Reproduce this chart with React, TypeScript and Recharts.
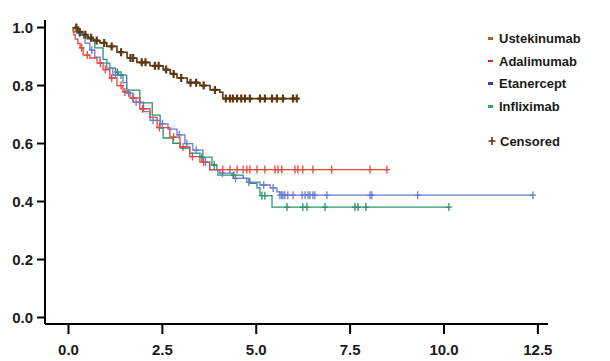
import React from "react";
import { LineChart, Line, XAxis, YAxis, Legend } from "recharts";

// Kaplan-Meier step data: time, survival, censored flag (1 = censored mark)
const ustTime = [0.18, 0.21, 0.25, 0.3, 0.39, 0.45, 0.52, 0.6, 0.65, 0.75, 0.84, 0.95, 1.02, 1.15, 1.29, 1.4, 1.56, 1.65, 1.72, 1.82, 1.95, 2.05, 2.17, 2.3, 2.4, 2.52, 2.6, 2.71, 2.8, 2.89, 3.0, 3.16, 3.25, 3.4, 3.5, 3.6, 3.77, 3.9, 4.03, 4.11, 4.19, 4.3, 4.38, 4.49, 4.6, 4.7, 4.83, 5.1, 5.23, 5.42, 5.55, 5.71, 5.98, 6.08];
const ustSurv = [1, 1, 0.985, 0.985, 0.975, 0.975, 0.965, 0.965, 0.955, 0.955, 0.947, 0.947, 0.935, 0.935, 0.915, 0.915, 0.895, 0.895, 0.895, 0.88, 0.88, 0.88, 0.868, 0.868, 0.868, 0.855, 0.855, 0.84, 0.84, 0.826, 0.826, 0.81, 0.81, 0.81, 0.8, 0.8, 0.785, 0.785, 0.777, 0.755, 0.755, 0.755, 0.755, 0.755, 0.755, 0.755, 0.755, 0.755, 0.755, 0.755, 0.755, 0.755, 0.755, 0.755];
const ustCens = [0, 1, 0, 1, 0, 1, 0, 1, 0, 1, 0, 1, 0, 1, 0, 1, 0, 1, 1, 0, 1, 1, 0, 1, 1, 0, 1, 0, 1, 0, 1, 0, 1, 1, 0, 1, 0, 1, 0, 0, 1, 1, 1, 1, 1, 1, 1, 1, 1, 1, 1, 1, 1, 1];

const adaTime = [0.11, 0.14, 0.18, 0.25, 0.31, 0.35, 0.39, 0.5, 0.57, 0.76, 0.85, 0.92, 0.98, 1.1, 1.15, 1.29, 1.4, 1.45, 1.5, 1.64, 1.72, 1.9, 1.97, 2.17, 2.36, 2.42, 2.7, 2.8, 2.97, 3.05, 3.23, 3.3, 3.5, 3.6, 3.76, 4.11, 4.3, 4.49, 4.65, 4.75, 4.83, 5.02, 5.23, 5.5, 5.58, 5.68, 6.03, 6.11, 6.24, 6.51, 7.01, 8.03, 8.48];
const adaSurv = [1, 0.975, 0.96, 0.945, 0.93, 0.93, 0.905, 0.905, 0.895, 0.877, 0.877, 0.855, 0.855, 0.826, 0.826, 0.8, 0.8, 0.778, 0.778, 0.757, 0.757, 0.72, 0.72, 0.69, 0.655, 0.655, 0.622, 0.622, 0.588, 0.588, 0.555, 0.555, 0.536, 0.536, 0.51, 0.51, 0.51, 0.51, 0.51, 0.51, 0.51, 0.51, 0.51, 0.51, 0.51, 0.51, 0.51, 0.51, 0.51, 0.51, 0.51, 0.51, 0.51];
const adaCens = [0, 0, 0, 0, 0, 1, 0, 1, 0, 0, 1, 0, 1, 0, 1, 0, 1, 0, 1, 0, 1, 0, 1, 0, 0, 1, 0, 1, 0, 1, 0, 1, 0, 1, 0, 1, 1, 1, 1, 1, 1, 1, 1, 1, 1, 1, 1, 1, 1, 1, 1, 1, 1];

const etaTime = [0.16, 0.22, 0.3, 0.44, 0.57, 0.62, 0.7, 0.84, 1.02, 1.18, 1.25, 1.45, 1.55, 1.6, 1.72, 1.8, 2.0, 2.17, 2.25, 2.44, 2.5, 2.65, 2.89, 2.95, 3.1, 3.15, 3.31, 3.4, 3.58, 3.65, 3.76, 4.03, 4.1, 4.38, 4.45, 4.75, 4.8, 5.1, 5.2, 5.37, 5.45, 5.55, 5.63, 5.68, 5.71, 5.76, 5.84, 5.98, 6.22, 6.3, 6.38, 6.43, 6.51, 6.56, 6.88, 8.03, 8.08, 9.3, 12.37];
const etaSurv = [1, 0.98, 0.98, 0.946, 0.922, 0.922, 0.898, 0.877, 0.86, 0.836, 0.836, 0.81, 0.774, 0.774, 0.743, 0.743, 0.71, 0.68, 0.68, 0.668, 0.668, 0.65, 0.63, 0.63, 0.6, 0.6, 0.577, 0.577, 0.536, 0.536, 0.509, 0.498, 0.498, 0.48, 0.48, 0.467, 0.467, 0.457, 0.457, 0.447, 0.447, 0.433, 0.422, 0.422, 0.422, 0.422, 0.422, 0.422, 0.422, 0.422, 0.422, 0.422, 0.422, 0.422, 0.422, 0.422, 0.422, 0.422, 0.422];
const etaCens = [0, 0, 1, 0, 0, 1, 0, 0, 0, 0, 1, 0, 0, 1, 0, 1, 0, 0, 1, 0, 1, 0, 0, 1, 0, 1, 0, 1, 0, 1, 0, 0, 1, 0, 1, 0, 1, 0, 1, 0, 1, 0, 1, 1, 1, 1, 1, 1, 1, 1, 1, 1, 1, 1, 1, 1, 1, 1, 1];

const infTime = [0.09, 0.12, 0.3, 0.4, 0.5, 0.7, 0.92, 1.02, 1.1, 1.25, 1.3, 1.33, 1.4, 1.55, 1.9, 2.23, 2.44, 2.52, 2.78, 2.97, 3.23, 3.5, 3.55, 3.82, 3.88, 3.95, 3.98, 4.4, 4.65, 4.83, 5.02, 5.1, 5.15, 5.23, 5.42, 5.82, 6.24, 6.35, 6.83, 7.63, 7.71, 7.92, 10.13];
const infSurv = [1, 0.985, 0.975, 0.975, 0.96, 0.93, 0.89, 0.877, 0.86, 0.846, 0.846, 0.836, 0.836, 0.784, 0.74, 0.698, 0.653, 0.619, 0.601, 0.584, 0.567, 0.553, 0.553, 0.526, 0.526, 0.509, 0.491, 0.491, 0.48, 0.463, 0.447, 0.42, 0.42, 0.42, 0.381, 0.381, 0.381, 0.381, 0.381, 0.381, 0.381, 0.381, 0.381];
const infCens = [0, 0, 0, 1, 0, 0, 0, 0, 0, 0, 1, 0, 1, 0, 0, 0, 0, 0, 0, 0, 0, 0, 1, 0, 1, 0, 0, 1, 0, 0, 0, 0, 1, 1, 0, 1, 1, 1, 1, 1, 1, 1, 1];

const xTicks = [0, 2.5, 5, 7.5, 10, 12.5];
const yTicks = [0, 0.2, 0.4, 0.6, 0.8, 1.0];

const legendItems = [
  { name: "Ustekinumab", color: "#b5602a" },
  { name: "Adalimumab", color: "#d42020" },
  { name: "Etanercept", color: "#2f45c0" },
  { name: "Infliximab", color: "#2fa84f" },
];

const build = (t: number[], s: number[], c: number[]) =>
  t.map((v, i) => ({ t: v, s: s[i], c: c[i] }));

const series = [
  { key: "inf", data: build(infTime, infSurv, infCens), color: "#2a9272", w: 1.3 },
  { key: "eta", data: build(etaTime, etaSurv, etaCens), color: "#6a7bd0", w: 1.3 },
  { key: "ada", data: build(adaTime, adaSurv, adaCens), color: "#e0493e", w: 1.3 },
  { key: "ust", data: build(ustTime, ustSurv, ustCens), color: "#5e3712", w: 1.6 },
];

const makeDot = (color: string, sw: number) => (props: any) => {
  const { cx, cy, payload, index } = props;
  if (!payload || !payload.c || cx == null || cy == null) return <g key={`d${index}`} />;
  return (
    <path
      key={`d${index}`}
      d={`M${cx - 3},${cy}h6M${cx},${cy - 4}v8`}
      stroke={color}
      strokeWidth={sw}
      fill="none"
    />
  );
};

const tickStyle = { fontFamily: "'Liberation Sans', Arial, sans-serif", fontWeight: 700, fontSize: 15, fill: "#1a1a1a" };

const LegendContent = () => (
  <div style={{ fontFamily: "'Liberation Sans', Arial, sans-serif", fontWeight: 700, fontSize: 13, color: "#1a1a1a" }}>
    {legendItems.map((it) => (
      <div key={it.name} style={{ display: "flex", alignItems: "center", height: 22.7 }}>
        <span style={{ display: "inline-block", width: 5, height: 2.5, background: it.color, marginRight: 6 }} />
        <span>{it.name}</span>
      </div>
    ))}
    <div style={{ display: "flex", alignItems: "center", height: 22.7, marginTop: 12 }}>
      <svg width={8} height={10} style={{ marginRight: 4 }}>
        <path d="M0.5,5h7M4,1v8" stroke="#5e3712" strokeWidth={1.6} />
      </svg>
      <span>Censored</span>
    </div>
  </div>
);

export default function App() {
  return (
    <div style={{ position: "absolute", left: 0, top: 0, width: 610, height: 361, background: "#fff" }}>
      <LineChart width={610} height={361} margin={{ top: 20, right: 62, bottom: 7, left: 0 }}>
        <XAxis
          type="number"
          dataKey="t"
          domain={[-0.626, 12.77]}
          allowDataOverflow
          ticks={xTicks}
          tickFormatter={(v: number) => v.toFixed(1)}
          stroke="#000"
          strokeWidth={2}
          tickSize={10}
          tickMargin={10}
          height={30}
          tick={tickStyle}
          tickLine={{ stroke: "#000", strokeWidth: 2 }}
          axisLine={{ stroke: "#000", strokeWidth: 2 }}
        />
        <YAxis
          type="number"
          domain={[-0.0224, 1.026]}
          allowDataOverflow
          ticks={yTicks}
          tickFormatter={(v: number) => v.toFixed(1)}
          width={45}
          tickSize={8}
          tickMargin={4}
          tick={tickStyle}
          tickLine={{ stroke: "#000", strokeWidth: 2 }}
          axisLine={{ stroke: "#000", strokeWidth: 2 }}
        />
        {series.map((s) => (
          <Line
            key={s.key}
            data={s.data}
            dataKey="s"
            type="stepAfter"
            stroke={s.color}
            strokeWidth={s.w}
            dot={makeDot(s.color, s.key === "ust" ? 2.2 : 1.3)}
            activeDot={false}
            isAnimationActive={false}
            legendType="none"
          />
        ))}
        <Legend
          layout="vertical"
          verticalAlign="middle"
          align="center"
          content={<LegendContent />}
          wrapperStyle={{ position: "absolute", left: 488, top: 27, width: 120 }}
        />
      </LineChart>
    </div>
  );
}
